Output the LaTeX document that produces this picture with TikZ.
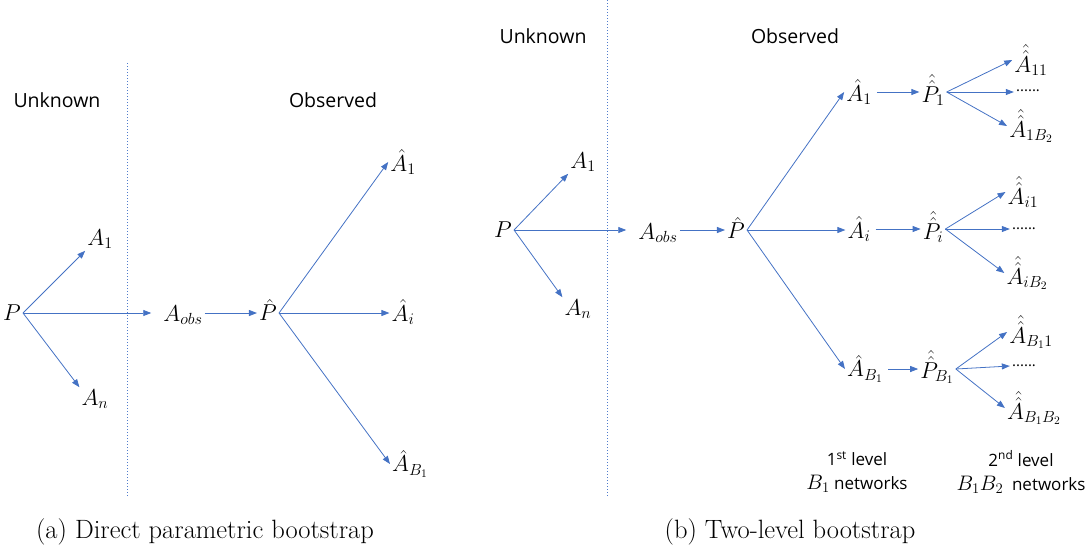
\RequirePackage{fix-cm}
\documentclass[tikz,border=0pt]{standalone}
\usepackage{amsmath}
\usepackage{fontspec}
\usepackage{tikz}
\usetikzlibrary{arrows.meta}
\newfontfamily\labelfont{Open Sans}
\definecolor{arrowblue}{HTML}{4472C4}
\definecolor{lineblue}{HTML}{4F7BCC}
\newcommand{\levmath}[1]{{\fontsize{21}{24}\selectfont$#1$}}
\tikzstyle{mathnode}=[inner sep=2pt,font=\fontsize{23}{27}\selectfont]
\tikzstyle{sidenode}=[inner sep=0pt,font=\labelfont\fontsize{19.5}{23}\selectfont]
\tikzstyle{levelnode}=[inner sep=0pt,align=center,font=\labelfont\fontsize{17}{24}\selectfont]
\tikzstyle{dotsnode}=[inner sep=2pt,font=\labelfont\fontsize{15}{18}\selectfont]
\tikzstyle{capnode}=[inner sep=0pt,font=\fontsize{26.5}{31}\selectfont]
\tikzstyle{arr}=[-{Triangle[length=8pt,width=6pt]},line width=0.8pt,color=arrowblue]
\tikzstyle{divider}=[dotted,line width=1pt,color=lineblue]

\begin{document}
\begin{tikzpicture}[x=1pt,y=-1pt]
  \useasboundingbox (0,0) rectangle (1091,547);
  % (a) direct parametric bootstrap
  \draw[divider] (127,63) -- (127,497);
  \node[sidenode] (unkL) at (57,100) {Unknown};
  \node[sidenode] (obsL) at (333,100) {Observed};
  \node[mathnode] (PL) at (12,313) {$P$};
  \node[mathnode] (A1L) at (100,239) {$A_1$};
  \node[mathnode] (AnL) at (95,399) {$A_n$};
  \node[mathnode] (AobsL) at (183,315) {$A_{obs}$};
  \node[mathnode] (PhL) at (268,310) {$\hat{P}$};
  \node[mathnode] (Ah1L) at (403,162) {$\hat{A}_1$};
  \node[mathnode] (AhiL) at (403,312) {$\hat{A}_i$};
  \node[mathnode] (AhBL) at (410,464) {$\hat{A}_{B_1}$};
  \draw[arr] (PL.east) -- (A1L.south west);
  \draw[arr] (PL.east) -- (AnL.north west);
  \draw[arr,shorten >=10pt] (PL.east) -- (AobsL.west |- PL.east);
  \draw[arr] (AobsL.east |- PL.east) -- (PhL.west |- PL.east);
  \draw[arr] (PhL.east |- PL.east) -- (Ah1L.west);
  \draw[arr] (PhL.east |- PL.east) -- (AhiL.west |- PL.east);
  \draw[arr] (PhL.east |- PL.east) -- (AhBL.west);
  \node[capnode] (capA) at (205,532) {(a) Direct parametric bootstrap};
  % (b) two-level bootstrap
  \draw[divider] (607,0) -- (607,497);
  \node[sidenode] (unkR) at (543,36) {Unknown};
  \node[sidenode] (obsR) at (795,36) {Observed};
  \node[mathnode] (PR) at (503,230) {$P$};
  \node[mathnode] (A1R) at (583,162) {$A_1$};
  \node[mathnode] (AnR) at (578,309) {$A_n$};
  \node[mathnode] (AobsR) at (658,233) {$A_{obs}$};
  \node[mathnode] (PhR) at (736,228) {$\hat{P}$};
  \node[mathnode] (Ah1R) at (859,92) {$\hat{A}_1$};
  \node[mathnode] (AhiR) at (859,229) {$\hat{A}_i$};
  \node[mathnode] (AhBR) at (865,369) {$\hat{A}_{B_1}$};
  \node[mathnode] (Ph1R) at (933,90) {$\hat{\hat{P}}_1$};
  \node[mathnode] (PhiR) at (933,227) {$\hat{\hat{P}}_i$};
  \node[mathnode] (PhBR) at (937,367) {$\hat{\hat{P}}_{B_1}$};
  \node[mathnode] (A11) at (1031,60) {$\hat{\hat{A}}_{11}$};
  \node[dotsnode] (dots1) at (1028,91) {......};
  \node[mathnode] (A1B) at (1031,126) {$\hat{\hat{A}}_{1B_2}$};
  \node[mathnode] (Ai1) at (1023,192) {$\hat{\hat{A}}_{i1}$};
  \node[dotsnode] (dotsi) at (1024,229) {......};
  \node[mathnode] (AiB) at (1027,273) {$\hat{\hat{A}}_{iB_2}$};
  \node[mathnode] (AB1) at (1031,332) {$\hat{\hat{A}}_{B_1 1}$};
  \node[dotsnode] (dotsB) at (1024,366) {......};
  \node[mathnode] (ABB) at (1034,408) {$\hat{\hat{A}}_{B_1 B_2}$};
  \draw[arr] (PR.east) -- (A1R.south west);
  \draw[arr] (PR.east) -- (AnR.north west);
  \draw[arr,shorten >=10pt] (PR.east) -- (AobsR.west |- PR.east);
  \draw[arr] (AobsR.east |- PR.east) -- (PhR.west |- PR.east);
  \draw[arr] (PhR.east |- PR.east) -- (Ah1R.west);
  \draw[arr] (PhR.east |- PR.east) -- (AhiR.west |- PR.east);
  \draw[arr] (PhR.east |- PR.east) -- (AhBR.west);
  \draw[arr,shorten <=3pt] (Ah1R.east) -- (Ph1R.west |- Ah1R.east);
  \draw[arr,shorten <=3pt] (AhiR.east) -- (PhiR.west |- AhiR.east);
  \draw[arr,shorten <=3pt] (AhBR.east) -- (PhBR.west |- AhBR.east);
  \draw[arr] (Ph1R.east |- Ah1R.east) -- (A11.west);
  \draw[arr] (Ph1R.east |- Ah1R.east) -- (dots1.west |- Ah1R.east);
  \draw[arr] (Ph1R.east |- Ah1R.east) -- (A1B.west);
  \draw[arr] (PhiR.east |- AhiR.east) -- (Ai1.west);
  \draw[arr] (PhiR.east |- AhiR.east) -- (dotsi.west |- AhiR.east);
  \draw[arr] (PhiR.east |- AhiR.east) -- (AiB.west);
  \draw[arr] (PhBR.east |- AhBR.east) -- (AB1.west);
  \draw[arr] (PhBR.east |- AhBR.east) -- (dotsB.west);
  \draw[arr] (PhBR.east |- AhBR.east) -- (ABB.west);
  \node[levelnode] (lev1) at (857,472) {1\textsuperscript{st} level\\\levmath{B_1} networks};
  \node[levelnode] (lev2) at (1021,472) {2\textsuperscript{nd} level\\\levmath{B_1B_2}~~networks};
  \node[capnode] (capB) at (790,532) {(b) Two-level bootstrap};
\end{tikzpicture}
\end{document}
